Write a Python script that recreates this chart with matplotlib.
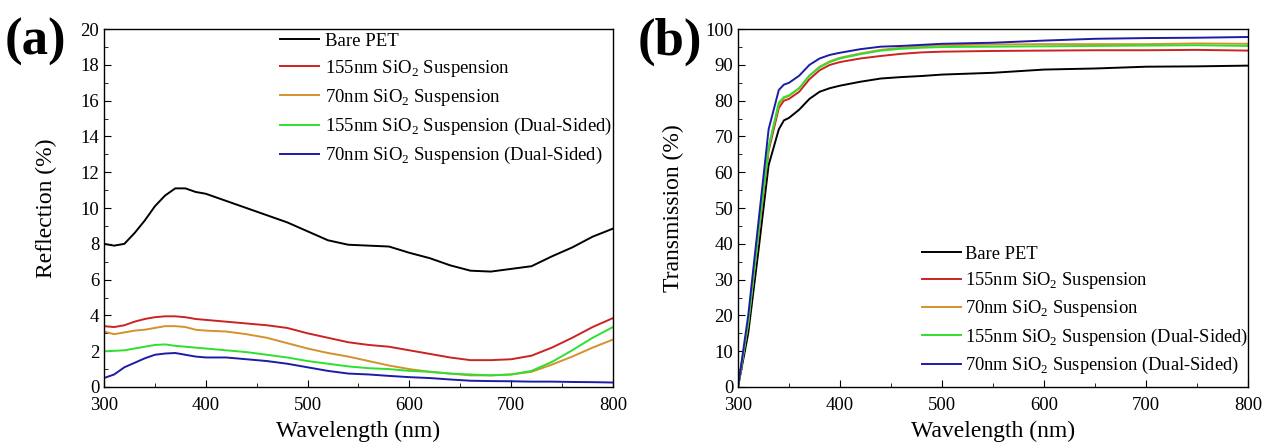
import matplotlib
matplotlib.use("Agg")
import matplotlib.pyplot as plt
from matplotlib.ticker import MultipleLocator

plt.rcParams['font.family'] = ['Liberation Serif', 'DejaVu Serif']
plt.rcParams['mathtext.fontset'] = 'custom'
plt.rcParams['mathtext.rm'] = 'Liberation Serif'

labels = ["Bare PET",
          r"155nm SiO$_\mathregular{2}$ Suspension",
          r"70nm SiO$_\mathregular{2}$ Suspension",
          r"155nm SiO$_\mathregular{2}$ Suspension (Dual-Sided)",
          r"70nm SiO$_\mathregular{2}$ Suspension (Dual-Sided)"]
colors = ["#000000", "#cc2222", "#d4912c", "#2ee02e", "#1c1ca6"]

# Reflection (a)
wl_r = [300, 310, 320, 330, 340, 350, 360, 370, 380, 390, 400, 420, 440, 460, 480,
        500, 520, 540, 560, 580, 600, 620, 640, 660, 680, 700, 720, 740, 760, 780, 800]
refl_bare = [8.0, 7.9, 8.0, 8.6, 9.3, 10.1, 10.7, 11.1, 11.1, 10.9, 10.8, 10.4, 10.0, 9.6, 9.2,
             8.7, 8.2, 7.95, 7.9, 7.85, 7.5, 7.2, 6.8, 6.5, 6.45, 6.6, 6.75, 7.3, 7.8, 8.4, 8.85]
refl_155 = [3.4, 3.35, 3.45, 3.65, 3.8, 3.9, 3.95, 3.95, 3.9, 3.8, 3.75, 3.65, 3.55, 3.45, 3.3,
            3.0, 2.75, 2.5, 2.35, 2.25, 2.05, 1.85, 1.65, 1.5, 1.5, 1.55, 1.75, 2.2, 2.75, 3.35, 3.85]
refl_70 = [3.1, 2.95, 3.05, 3.15, 3.2, 3.3, 3.4, 3.4, 3.35, 3.2, 3.15, 3.1, 2.95, 2.75, 2.45,
           2.15, 1.9, 1.7, 1.45, 1.2, 1.0, 0.85, 0.75, 0.65, 0.65, 0.7, 0.85, 1.25, 1.7, 2.2, 2.65]
refl_155d = [2.0, 2.02, 2.05, 2.15, 2.25, 2.35, 2.38, 2.3, 2.25, 2.2, 2.15, 2.05, 1.95, 1.8, 1.65,
             1.45, 1.3, 1.15, 1.05, 1.0, 0.9, 0.85, 0.75, 0.7, 0.65, 0.7, 0.9, 1.4, 2.05, 2.75, 3.35]
refl_70d = [0.5, 0.7, 1.1, 1.35, 1.6, 1.8, 1.87, 1.9, 1.8, 1.7, 1.65, 1.65, 1.55, 1.45, 1.3,
            1.1, 0.9, 0.75, 0.7, 0.62, 0.55, 0.5, 0.42, 0.35, 0.33, 0.32, 0.3, 0.3, 0.28, 0.27, 0.25]

# Transmission (b)
wl_t = [300, 310, 320, 330, 340, 345, 350, 360, 370, 380, 390, 400, 420, 440, 460, 480,
        500, 550, 600, 650, 700, 750, 800]
tran_bare = [0, 15, 38, 62, 72, 74.5, 75.2, 77.5, 80.5, 82.5, 83.5, 84.2, 85.3, 86.2, 86.6, 86.9,
             87.3, 87.8, 88.7, 89.0, 89.5, 89.6, 89.8]
tran_155 = [0, 18, 42, 66, 78, 80, 80.5, 82.5, 86, 88.5, 90, 90.8, 91.8, 92.5, 93.1, 93.5,
            93.7, 93.9, 94.0, 94.1, 94.1, 94.2, 94.0]
tran_70 = [0, 18, 43, 67, 79, 80.8, 81.3, 83.5, 87, 89.5, 91, 92, 93.2, 94.2, 94.8, 95.2,
           95.5, 95.7, 95.8, 95.8, 95.8, 96.0, 95.9]
tran_155d = [0, 18, 43, 67, 79.5, 81, 81.5, 83.5, 87, 89.3, 90.8, 91.8, 93, 94, 94.5, 94.8,
             95.0, 95.1, 95.2, 95.3, 95.4, 95.5, 95.3]
tran_70d = [0, 20, 46, 72, 83, 84.5, 85, 87, 90, 91.8, 92.8, 93.4, 94.4, 95.1, 95.3, 95.6,
            95.9, 96.2, 96.8, 97.3, 97.5, 97.6, 97.8]

fig = plt.figure(figsize=(12.62, 4.44), dpi=100)
axa = fig.add_axes([0.0824, 0.1284, 0.4033, 0.806])
axb = fig.add_axes([0.5848, 0.1284, 0.4041, 0.806])

for ys, c, l in zip([refl_bare, refl_155, refl_70, refl_155d, refl_70d], colors, labels):
    axa.plot(wl_r, ys, color=c, lw=1.4, label=l)
for ys, c, l in zip([tran_bare, tran_155, tran_70, tran_155d, tran_70d], colors, labels):
    axb.plot(wl_t, ys, color=c, lw=1.4, label=l)

axa.set_xlim(300, 800); axa.set_ylim(0, 20)
axb.set_xlim(300, 800); axb.set_ylim(0, 100)
axa.yaxis.set_major_locator(MultipleLocator(2)); axa.yaxis.set_minor_locator(MultipleLocator(1))
axb.yaxis.set_major_locator(MultipleLocator(10)); axb.yaxis.set_minor_locator(MultipleLocator(5))
for ax in (axa, axb):
    ax.xaxis.set_major_locator(MultipleLocator(100)); ax.xaxis.set_minor_locator(MultipleLocator(50))
    ax.tick_params(which='both', direction='in', top=False, right=False, labelsize=13.5)
    ax.tick_params(axis='x', which='major', pad=7)
    ax.tick_params(which='major', length=5)
    ax.tick_params(which='minor', length=3)
    ax.set_xlabel("Wavelength (nm)", fontsize=17, labelpad=5)
    for s in ax.spines.values():
        s.set_linewidth(1.0)

axa.set_ylabel("Reflection (%)", fontsize=17, labelpad=17)
axb.set_ylabel("Transmission (%)", fontsize=17, labelpad=15)

axa.legend(loc='upper left', bbox_to_anchor=(0.346, 0.99), frameon=False, fontsize=13.5,
           handlelength=2.1, labelspacing=0.43, handletextpad=0.27, borderpad=0, borderaxespad=0)
axb.legend(loc='upper left', bbox_to_anchor=(0.361, 0.395), frameon=False, fontsize=13.3,
           handlelength=2.1, labelspacing=0.40, handletextpad=0.2, borderpad=0, borderaxespad=0)

fig.text(0.004, 0.905, "(a)", fontsize=38, fontweight='bold', ha='left', va='center')
fig.text(0.505, 0.905, "(b)", fontsize=38, fontweight='bold', ha='left', va='center')

fig.savefig("out.png", dpi=100)
